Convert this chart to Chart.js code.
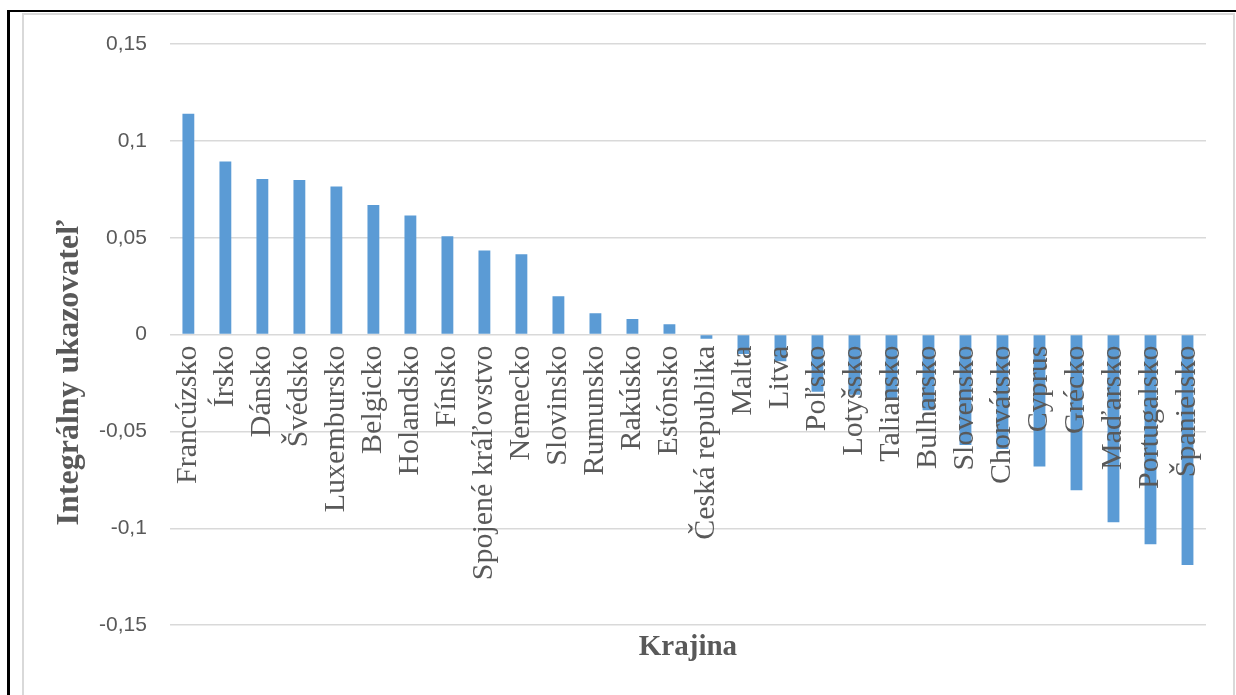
<!DOCTYPE html>
<html lang="sk">
<head>
<meta charset="utf-8">
<title>Integrálny ukazovateľ podľa krajín</title>
<script src="https://cdn.jsdelivr.net/npm/chart.js@4.4.1/dist/chart.umd.min.js"></script>
<style>
  html, body { margin: 0; padding: 0; background: #ffffff; }
  #wrap { position: relative; width: 1236px; height: 695px; overflow: hidden; background: #ffffff; }
  #outerFrame { position: absolute; left: 7px; top: 10px; width: 1240px; height: 700px;
                border-top: 2px solid #000000; border-left: 3px solid #000000; box-sizing: border-box; }
  #innerFrame { position: absolute; left: 22px; top: 13px; width: 1213px; height: 700px;
                border: 2px solid #d9d9d9; box-sizing: border-box; }
  #chart { position: absolute; left: 0; top: 0; }
</style>
</head>
<body>
<div id="wrap">
  <div id="outerFrame"></div>
  <div id="innerFrame"></div>
  <canvas id="chart" width="1236" height="695"></canvas>
</div>
<script>
// Countries, ordered from the highest to the lowest indicator value
const countries = [
  'Francúzsko', 'Írsko', 'Dánsko', 'Švédsko', 'Luxembursko', 'Belgicko', 'Holandsko',
  'Fínsko', 'Spojené kráľovstvo', 'Nemecko', 'Slovinsko', 'Rumunsko', 'Rakúsko',
  'Estónsko', 'Česká republika', 'Malta', 'Litva', 'Poľsko', 'Lotyšsko', 'Taliansko',
  'Bulharsko', 'Slovensko', 'Chorvátsko', 'Cyprus', 'Grécko', 'Maďarsko',
  'Portugalsko', 'Španielsko'
];

// Integral indicator per country
const indicatorValues = [
  0.1140, 0.0894, 0.0803, 0.0798, 0.0764, 0.0669, 0.0615,
  0.0508, 0.0434, 0.0415, 0.0198, 0.0110, 0.0081,
  0.0053, -0.0022, -0.0100, -0.0138, -0.0295, -0.0310, -0.0333,
  -0.0390, -0.0570, -0.0590, -0.0681, -0.0803, -0.0968,
  -0.1082, -0.1189
];

// Value axis ticks
const yTickValues = [-0.15, -0.1, -0.05, 0, 0.05, 0.1, 0.15];

const axisTitleY = 'Integrálny ukazovateľ';
const axisTitleX = 'Krajina';

const textGray = '#595959';
const gridGray = '#d9d9d9';
const barBlue = '#5b9bd5';

function formatTick(v) {
  return String(Number(v.toFixed(2))).replace('.', ',');
}

// Vertical axis caption, drawn beside the value labels
const valueAxisCaption = {
  id: 'valueAxisCaption',
  afterDraw(chart) {
    const { ctx, chartArea } = chart;
    const cx = chartArea.left - 100;
    const cy = (chartArea.top + chartArea.bottom) / 2 + 38;
    ctx.save();
    ctx.translate(cx, cy);
    ctx.rotate(-Math.PI / 2);
    ctx.font = 'bold 32px "Liberation Serif", "Times New Roman", serif';
    ctx.fillStyle = textGray;
    ctx.textAlign = 'center';
    ctx.textBaseline = 'middle';
    ctx.fillText(axisTitleY, 0, 0);
    ctx.restore();
  }
};

new Chart(document.getElementById('chart'), {
  type: 'bar',
  data: {
    labels: countries,
    datasets: [{
      label: axisTitleY,
      data: indicatorValues,
      backgroundColor: barBlue,
      borderWidth: 0,
      barPercentage: 0.32,
      categoryPercentage: 1.0,
      xAxisID: 'x',
      yAxisID: 'y'
    }]
  },
  options: {
    responsive: false,
    animation: false,
    layout: { padding: { left: 76, right: 30, top: 44, bottom: 26 } },
    plugins: {
      legend: { display: false },
      tooltip: { enabled: false },
      title: { display: false }
    },
    scales: {
      y: {
        type: 'linear',
        min: -0.15,
        max: 0.15,
        afterBuildTicks(scale) {
          scale.ticks = yTickValues.map(v => ({ value: v }));
        },
        ticks: {
          padding: 23,
          color: textGray,
          font: { family: '"Liberation Sans", Arial, sans-serif', size: 21 },
          callback: v => formatTick(v)
        },
        grid: { color: gridGray, lineWidth: 1.5, drawTicks: false },
        border: { display: false }
      },
      x: {
        type: 'category',
        position: { y: 0 },
        offset: true,
        ticks: {
          z: 1,
          autoSkip: false,
          minRotation: 90,
          maxRotation: 90,
          padding: 11,
          color: textGray,
          font: { family: '"Liberation Serif", "Times New Roman", serif', size: 30 }
        },
        grid: { display: false, drawTicks: false },
        border: { display: false }
      },
      xCaption: {
        type: 'category',
        axis: 'x',
        position: 'bottom',
        offset: true,
        ticks: { display: false },
        grid: { display: false, drawTicks: false },
        border: { display: false },
        title: {
          display: true,
          text: axisTitleX,
          color: textGray,
          padding: { top: 5, bottom: 4 },
          font: { family: '"Liberation Serif", "Times New Roman", serif', size: 29, weight: 'bold', lineHeight: 1.2 }
        }
      }
    }
  },
  plugins: [valueAxisCaption]
});
</script>
</body>
</html>
